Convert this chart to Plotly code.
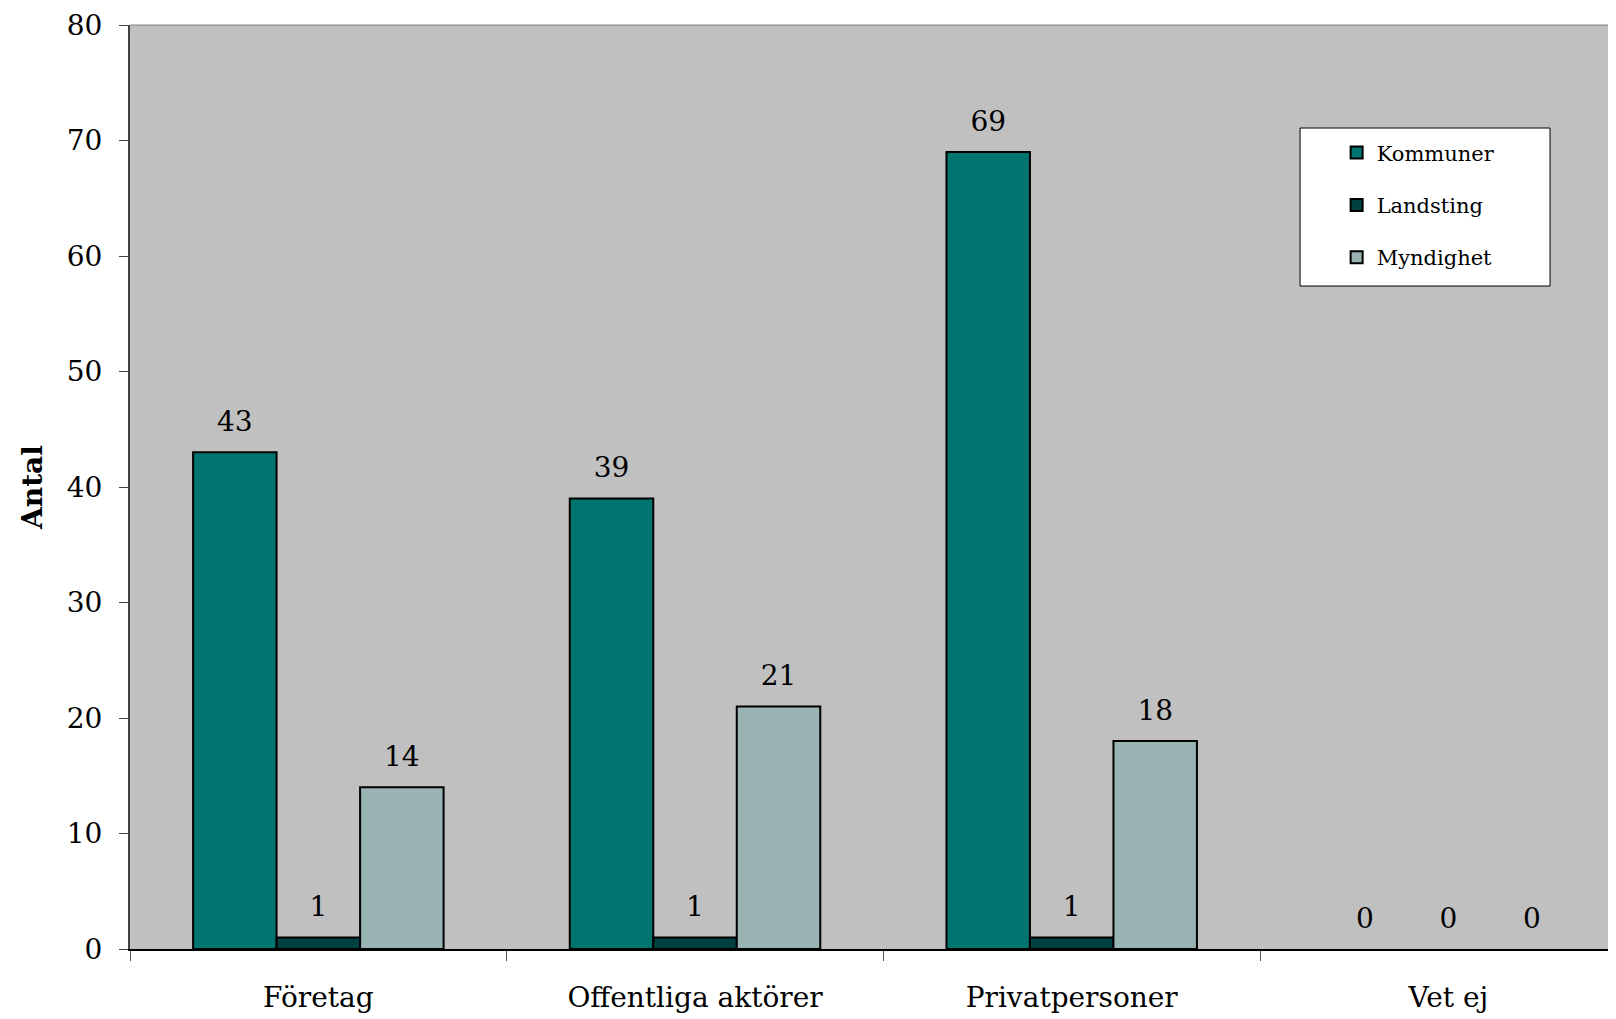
import plotly.graph_objects as go

categories = ["Företag", "Offentliga aktörer", "Privatpersoner", "Vet ej"]
kommuner = [43, 39, 69, 0]
landsting = [1, 1, 1, 0]
myndighet = [14, 21, 18, 0]
series_names = ["Kommuner", "Landsting", "Myndighet"]
colors = ["#00746F", "#004040", "#99B3B3"]

FONT = "DejaVu Serif"

fig = go.Figure()
for name, vals, col in zip(series_names, [kommuner, landsting, myndighet], colors):
    fig.add_trace(go.Bar(
        x=categories, y=vals, name=name, legendgroup=name, offsetgroup=name,
        marker=dict(color=col, line=dict(color="#000000",
                                         width=[2 if v > 0 else 0 for v in vals])),
        hoverinfo="x+y+name",
    ))
for name, vals in zip(series_names, [kommuner, landsting, myndighet]):
    fig.add_trace(go.Scatter(
        x=categories, y=vals, name=name, offsetgroup=name, showlegend=False,
        mode="markers+text", text=[str(v) for v in vals], textposition="top center",
        marker=dict(size=21, opacity=0), cliponaxis=False, hoverinfo="skip",
        textfont=dict(family=FONT, size=28, color="#000000"),
    ))

fig.update_layout(
    width=1608, height=1011,
    margin=dict(l=122, r=0, t=17, b=70),
    paper_bgcolor="#FFFFFF", plot_bgcolor="#C0C0C0",
    barmode="group", bargap=0.335, bargroupgap=0,
    scattermode="group", scattergap=0.335,
    font=dict(family=FONT, size=28, color="#000000"),
    showlegend=True,
    legend=dict(
        x=0.812, y=0.8837, xanchor="left", yanchor="top",
        bgcolor="rgba(0,0,0,0)", borderwidth=0,
        font=dict(family=FONT, size=21, color="#000000"),
        tracegroupgap=22, traceorder="grouped",
    ),
    xaxis=dict(
        range=[-0.5, 3.445], showgrid=False, automargin=False,
        showline=True, linecolor="#000000", linewidth=2,
        ticks="outside", tickson="boundaries", ticklen=10, tickcolor="#555555",
        tickfont=dict(family=FONT, size=28), ticklabelstandoff=22,
    ),
    yaxis=dict(
        range=[0, 80], dtick=10, showgrid=False, zeroline=False, automargin=False,
        showline=True, linecolor="#404040", linewidth=2,
        ticks="outside", ticklen=9, tickcolor="#404040", ticklabeloverflow="allow",
        tickfont=dict(family=FONT, size=28), ticklabelstandoff=11,
        title=dict(text="<b>Antal</b>", font=dict(family=FONT, size=28), standoff=16),
    ),
    shapes=[
        dict(type="line", xref="paper", yref="paper", x0=0, x1=1, y0=1, y1=1,
             line=dict(color="#808080", width=1)),
        dict(type="rect", xref="paper", yref="paper", x0=0.7874, x1=0.9556,
             y0=0.7175, y1=0.8885, layer="above",
             fillcolor="#FFFFFF", line=dict(color="#000000", width=1)),
    ],
)

fig.write_html("out.html")
